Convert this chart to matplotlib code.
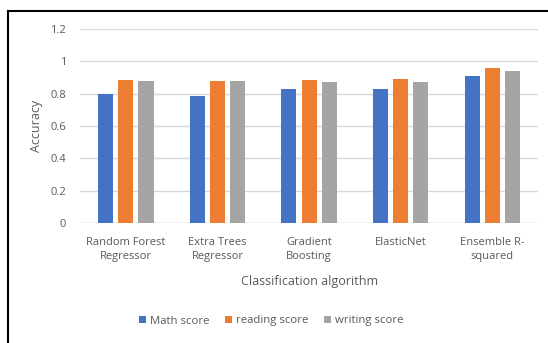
import matplotlib.pyplot as plt
import numpy as np
from matplotlib.lines import Line2D

algorithms = ["Random Forest\nRegressor", "Extra Trees\nRegressor", "Gradient\nBoosting",
              "ElasticNet", "Ensemble R-\nsquared"]
math_score = [0.795, 0.785, 0.83, 0.83, 0.91]
reading_score = [0.885, 0.88, 0.885, 0.89, 0.96]
writing_score = [0.88, 0.88, 0.87, 0.87, 0.94]
yticks = [0, 0.2, 0.4, 0.6, 0.8, 1, 1.2]
ytick_labels = ["0", "0.2", "0.4", "0.6", "0.8", "1", "1.2"]

series = [
    ("Math score", math_score, "#4472c4"),
    ("reading score", reading_score, "#ed7d31"),
    ("writing score", writing_score, "#a5a5a5"),
]

plt.rcParams["font.family"] = ["Open Sans", "DejaVu Sans"]
text_color = "#595959"

fig = plt.figure(figsize=(5.48, 3.43), dpi=100)
ax = fig.add_axes([0.146, 0.350, 0.836, 0.5655])

x = np.arange(len(algorithms))
width = 0.165
step = 0.22
for i, (name, vals, color) in enumerate(series):
    ax.bar(x + (i - 1) * step, vals, width, color=color, label=name, zorder=3)

ax.set_xlim(-0.5, len(algorithms) - 0.5)
ax.set_ylim(0, 1.2)
ax.set_yticks(yticks)
ax.set_yticklabels(ytick_labels)
ax.set_xticks(x)
ax.set_xticklabels(algorithms, linespacing=1.45)
ax.tick_params(length=0, labelsize=8, colors=text_color)
ax.tick_params(axis="x", pad=10)
ax.tick_params(axis="y", pad=10)
ax.grid(axis="y", color="#d9d9d9", linewidth=1, zorder=0)
for side in ["top", "right", "left", "bottom"]:
    ax.spines[side].set_visible(False)
ax.axhline(0, color="#d9d9d9", linewidth=1, zorder=2)

ax.set_ylabel("Accuracy", fontsize=9, color=text_color, labelpad=5)
ax.set_xlabel("Classification algorithm", fontsize=9, color=text_color, labelpad=9)

fig.legend(loc="center", bbox_to_anchor=(0.495, 1 - 321 / 343), ncol=3, frameon=False,
           fontsize=8.2, handlelength=0.6, handleheight=0.6, handletextpad=0.35,
           columnspacing=1.4, labelcolor=text_color)

# outer frame
fig.add_artist(Line2D([8 / 548, 1], [1 - 11 / 343] * 2, color="black", linewidth=1.5,
                      transform=fig.transFigure))
fig.add_artist(Line2D([8 / 548] * 2, [0, 1 - 11 / 343], color="black", linewidth=1.5,
                      transform=fig.transFigure))

fig.savefig("out.png", dpi=100)
